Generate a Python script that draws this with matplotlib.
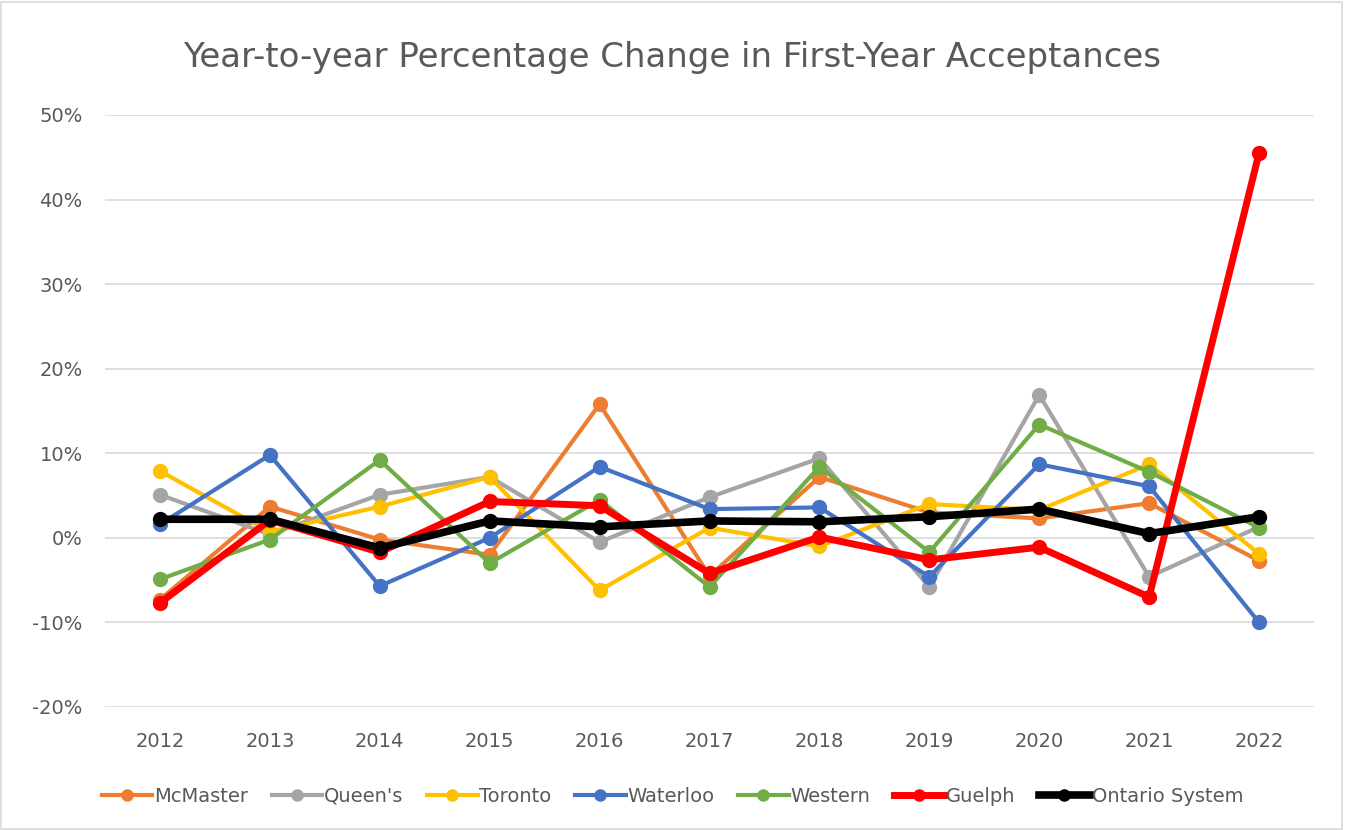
import matplotlib
matplotlib.use("Agg")
import matplotlib.pyplot as plt
from matplotlib.patches import Rectangle

years = ["2012", "2013", "2014", "2015", "2016", "2017", "2018", "2019", "2020", "2021", "2022"]
mcmaster = [-7.3, 3.7, -0.2, -2.0, 15.8, -4.5, 7.2, 3.0, 2.3, 4.1, -2.7]
queens = [5.1, 0.4, 5.1, 7.2, -0.5, 4.8, 9.4, -5.8, 16.9, -4.6, 1.3]
toronto = [7.9, 0.7, 3.7, 7.2, -6.2, 1.2, -1.0, 4.0, 3.3, 8.7, -1.9]
waterloo = [1.6, 9.8, -5.7, 0.0, 8.4, 3.4, 3.6, -4.6, 8.7, 6.1, -10.0]
western = [-4.9, -0.2, 9.2, -3.0, 4.5, -5.8, 8.4, -1.7, 13.4, 7.8, 1.2]
guelph = [-7.7, 2.1, -1.7, 4.3, 3.8, -4.2, 0.1, -2.6, -1.1, -7.0, 45.5]
ontario = [2.2, 2.2, -1.2, 2.0, 1.3, 2.0, 1.9, 2.5, 3.4, 0.5, 2.5]

series = [
    ("McMaster", mcmaster, "#ED7D31", 3.0, 10),
    ("Queen's", queens, "#A5A5A5", 3.0, 10),
    ("Toronto", toronto, "#FFC000", 3.0, 10),
    ("Waterloo", waterloo, "#4472C4", 3.0, 10),
    ("Western", western, "#70AD47", 3.0, 10),
    ("Guelph", guelph, "#FF0000", 5.0, 10),
    ("Ontario System", ontario, "#000000", 5.5, 10),
]

fig = plt.figure(figsize=(13.45, 8.3), dpi=100)
ax = fig.add_axes([105/1345, 1 - 707/830, (1314-105)/1345, (707-115)/830])

x = list(range(len(years)))
for name, vals, col, lw, ms in series:
    ax.plot(x, vals, color=col, lw=lw, marker="o", ms=ms, label=name,
            solid_joinstyle="miter")

ax.set_xlim(-0.5, len(years) - 0.5)
ax.set_ylim(-20, 50)
ax.set_yticks(range(-20, 51, 10))
ax.set_yticklabels([f"{v}%" for v in range(-20, 51, 10)])
ax.set_xticks(x)
ax.set_xticklabels(years)
ax.grid(axis="y", color="#D9D9D9", lw=1.2)
ax.set_axisbelow(True)
for s in ax.spines.values():
    s.set_visible(False)
ax.tick_params(axis="both", length=0, labelsize=14, colors="#595959", pad=16)
ax.tick_params(axis="x", pad=18)

fig.text(0.5, 1 - 57/830, "Year-to-year Percentage Change in First-Year Acceptances",
         ha="center", va="center", fontsize=24.5, color="#595959")

leg = fig.legend(loc="center", bbox_to_anchor=(0.5, 1 - 796/830), ncol=7, frameon=False,
                 fontsize=14, handlelength=2.6, handletextpad=0.1, columnspacing=1.2,
                 markerscale=0.8)
for t in leg.get_texts():
    t.set_color("#595959")

fig.patches.append(Rectangle((0.001, 0.001), 0.997, 0.997, transform=fig.transFigure,
                             fill=False, edgecolor="#D9D9D9", lw=1.2))

fig.savefig("out.png", dpi=100, facecolor="white")
